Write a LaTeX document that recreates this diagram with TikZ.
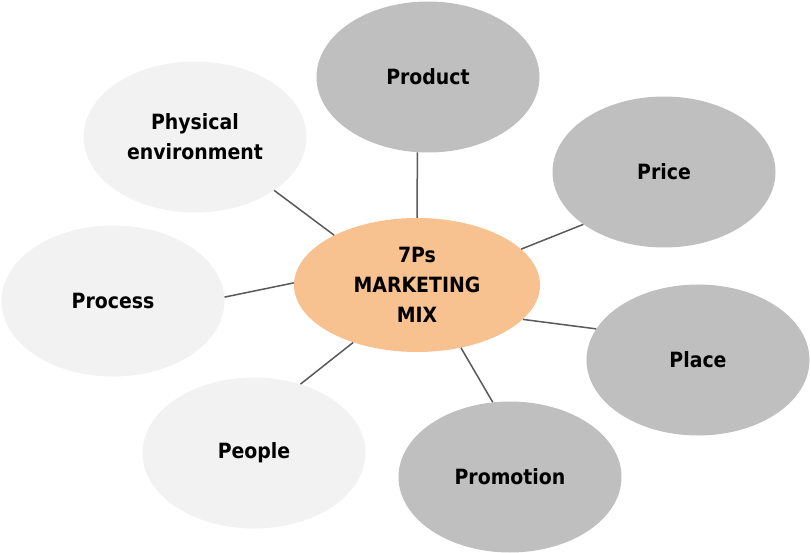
\documentclass[tikz,border=0pt]{standalone}
\usepackage{fontspec}
\setmainfont{DejaVu Sans Condensed}
\usetikzlibrary{shapes.geometric}
\definecolor{mixorange}{HTML}{F8C190}
\definecolor{pgray}{HTML}{BFBFBF}
\definecolor{plight}{HTML}{F2F2F2}
\definecolor{spoke}{HTML}{595959}
\tikzset{
  pbubble/.style={ellipse, inner sep=0pt, minimum width=223pt, minimum height=151pt,
    align=center, font=\bfseries\fontsize{21}{30}\selectfont},
  pdark/.style={pbubble, fill=pgray},
  plightbubble/.style={pbubble, fill=plight},
  spokeline/.style={draw=spoke, line width=1.5pt}
}

\begin{document}
\begin{tikzpicture}[x=1pt,y=-1pt]
  \useasboundingbox (0,0) rectangle (811,553);

  \coordinate (mix_c) at (417,285);
  \coordinate (product_c) at (428,77);
  \coordinate (price_c) at (664,172);
  \coordinate (place_c) at (698,360);
  \coordinate (promotion_c) at (510,477);
  \coordinate (people_c) at (254,453);
  \coordinate (process_c) at (113,301);
  \coordinate (physical_c) at (195,137);

  \node[pdark] (product) at (product_c) {Product};
  \node[pdark] (price) at (price_c) {Price};
  \node[pdark] (place) at (place_c) {Place};
  \node[pdark] (promotion) at (promotion_c) {Promotion};
  \node[plightbubble] (people) at (people_c) {People};
  \node[plightbubble] (process) at (process_c) {Process};
  \node[plightbubble] (physical) at (physical_c) {Physical\\environment};

  \node[pbubble, fill=mixorange, minimum width=246pt, minimum height=134pt] (mix) at (mix_c) {7Ps\\MARKETING\\MIX};

%  Spokes
  \draw[spokeline] (mix.90) -- (product.-98);
  \draw[spokeline] (mix.19) -- (price.-147);
  \draw[spokeline] (mix.-18) -- (place.163);
  \draw[spokeline] (mix.-55) -- (promotion.103);
  \draw[spokeline] (mix.-138) -- (people.56);
  \draw[spokeline] (mix.179) -- (process.2);
  \draw[spokeline] (mix.149) -- (physical.-34);

\end{tikzpicture}
\end{document}
